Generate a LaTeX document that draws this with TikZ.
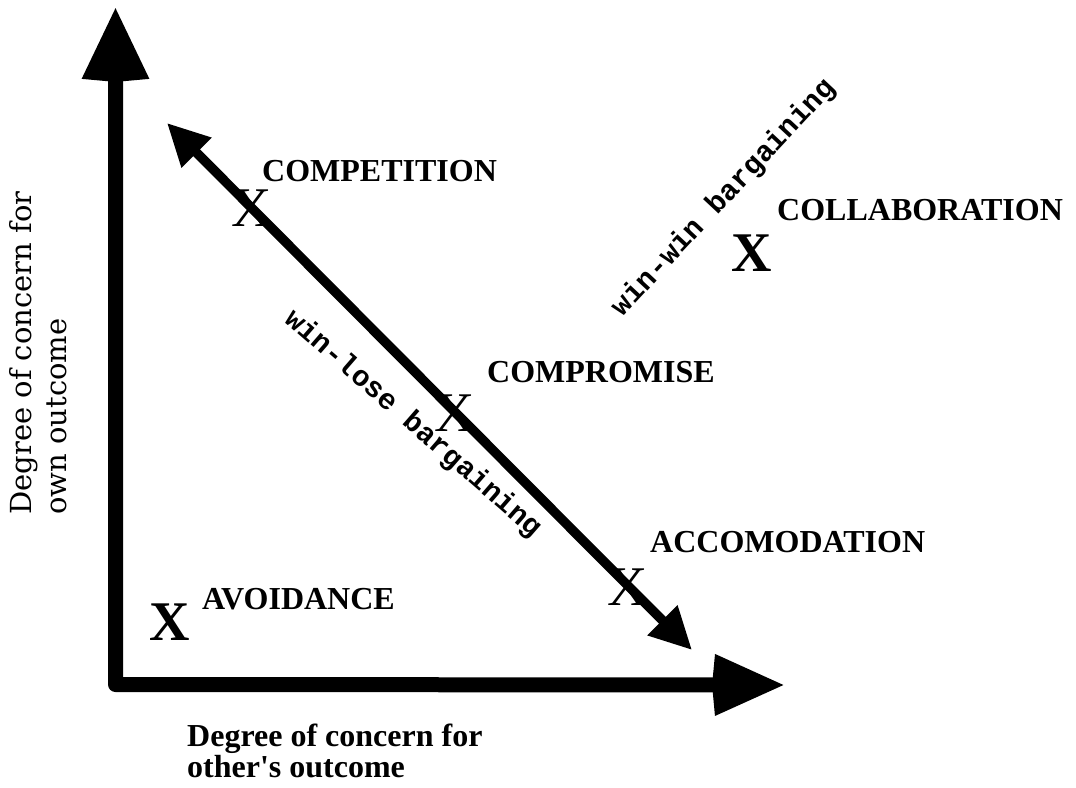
\documentclass[tikz,border=0pt]{standalone}
\usepackage{fontspec}
\setmainfont{Liberation Serif}
\newfontfamily\axisfont{DejaVu Serif}
\newfontfamily\pixfont{Liberation Mono}
\usetikzlibrary{arrows.meta}
\begin{document}
\begin{tikzpicture}[x=1pt,y=-1pt,
  lbl/.style={font=\normalfont\fontsize{32}{36}\selectfont\bfseries, inner sep=0pt, anchor=base west},
  xreg/.style={font=\normalfont\upshape\mdseries\fontsize{56}{60}\selectfont, inner sep=0pt},
  xbold/.style={font=\normalfont\upshape\fontsize{56}{60}\selectfont\bfseries, inner sep=0pt},
  axisline/.style={line width=15pt, line join=round,
    {Stealth[length=70pt,width=62pt,inset=-5pt]}-{Stealth[length=68pt,width=56pt,inset=-5pt]}},
  diagline/.style={line width=9.5pt,
    {Triangle[length=42pt,width=40pt]}-{Triangle[length=42pt,width=40pt]}},
  bargain/.style={font=\pixfont\bfseries\fontsize{29}{30}\selectfont, inner sep=0pt}
]
\useasboundingbox[fill=white] (0,0) rectangle (1076,787);

% axes
\coordinate (ytip) at (115.5,7);
\coordinate (origin) at (115.5,684.5);
\coordinate (xtip) at (785,685);
\draw[axisline] (ytip) -- (origin) -- (xtip);

% diagonal
\coordinate (dtl) at (167,123);
\coordinate (dbr) at (692,650);
\draw[diagline] (dtl) -- (dbr);

% X marks
\node[xreg] (xcompet) at (252,208) {X};
\node[xreg] (xcompro) at (455,413) {X};
\node[xreg] (xaccom) at (628,587) {X};
\node[xbold] (xcollab) at (752,253) {X};
\node[xbold] (xavoid) at (170,622) {X};

% labels
\node[lbl] (lcompet) at (262,181) {COMPETITION};
\node[lbl] (lcollab) at (777,220) {COLLABORATION};
\node[lbl] (lcompro) at (487,382) {COMPROMISE};
\node[lbl] (laccom) at (650,552) {ACCOMODATION};
\node[lbl] (lavoid) at (202,609) {AVOIDANCE};

% bargaining texts
\node[bargain, rotate=47] (winwin) at (724,198) {win-win bargaining};
\node[bargain, rotate=-41] (winlose) at (413,424) {win-lose bargaining};

% axis titles
\node[font=\normalfont\fontsize{32}{31}\selectfont\bfseries, align=left, anchor=north west, inner sep=0pt]
  (xlabel) at (187,724) {Degree of concern for\\other\textquotesingle s outcome};
\node[font=\axisfont\fontsize{29}{35}\selectfont, rotate=90, align=left, anchor=north west, inner sep=0pt]
  (ylabel) at (9,515) {Degree of concern for\\own outcome};
\end{tikzpicture}
\end{document}
